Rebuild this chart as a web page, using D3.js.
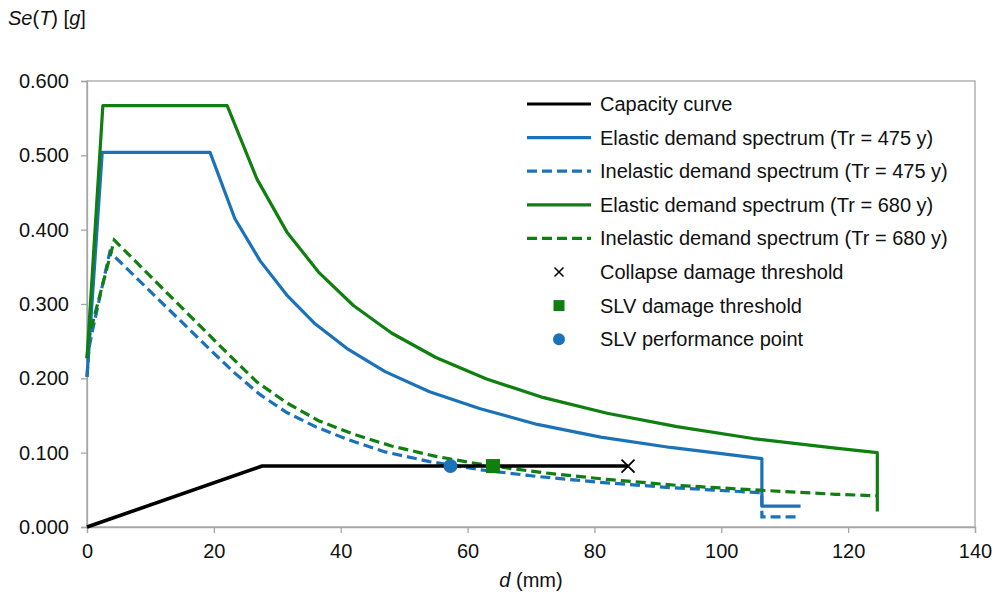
<!DOCTYPE html>
<html>
<head>
<meta charset="utf-8">
<script src="https://cdn.jsdelivr.net/npm/d3@7"></script>
<style>
  html, body { margin: 0; padding: 0; background: #fff; }
  svg { display: block; font-family: "Liberation Sans", Arial, sans-serif; }
</style>
</head>
<body>
<svg id="chart" width="997" height="596"></svg>
<script>
// ---------- DATA ----------
const xTicks = [0, 20, 40, 60, 80, 100, 120, 140];
const yTicks = [0, 0.1, 0.2, 0.3, 0.4, 0.5, 0.6];

const capacityD  = [0, 27.6, 85.3];
const capacitySa = [0, 0.082, 0.082];

const elastic475D  = [0, 2.4, 19.4, 23.3, 27.3, 31.5, 36, 41, 47, 54, 62, 71, 81, 92, 106.4, 106.4, 112.5];
const elastic475Sa = [0.202, 0.504, 0.504, 0.415, 0.358, 0.312, 0.273, 0.240, 0.209, 0.182, 0.159, 0.138, 0.121, 0.107, 0.092, 0.028, 0.028];

const inelastic475D  = [0, 0.3, 0.8, 3.6, 19.6, 23.3, 27.3, 31.5, 36, 41, 47, 54, 62, 71, 81, 92, 106.4, 106.4, 112.5];
const inelastic475Sa = [0.202, 0.240, 0.262, 0.370, 0.237, 0.207, 0.178, 0.154, 0.135, 0.118, 0.101, 0.088, 0.077, 0.068, 0.060, 0.053, 0.046, 0.0135, 0.0135];

const elastic680D  = [0, 2.5, 22.1, 26.8, 31.5, 36.5, 42, 48, 55, 63, 72, 82, 93, 105, 118, 124.6, 124.6];
const elastic680Sa = [0.227, 0.567, 0.567, 0.468, 0.397, 0.343, 0.298, 0.261, 0.228, 0.199, 0.174, 0.153, 0.135, 0.119, 0.106, 0.100, 0.021];

const inelastic680D  = [0, 0.3, 0.9, 4.3, 22.1, 26.8, 31.5, 36.5, 42, 48, 55, 63, 72, 82, 93, 105, 118, 124.6];
const inelastic680Sa = [0.227, 0.255, 0.275, 0.386, 0.234, 0.195, 0.167, 0.143, 0.125, 0.109, 0.095, 0.083, 0.073, 0.064, 0.056, 0.050, 0.044, 0.042];

const collapseD = [85.3],  collapseSa = [0.082];
const slvDamageD = [64.0], slvDamageSa = [0.082];
const slvPerfD = [57.3],   slvPerfSa = [0.082];

const legendLabels = [
  "Capacity curve",
  "Elastic demand spectrum (Tr = 475 y)",
  "Inelastic demand spectrum (Tr = 475 y)",
  "Elastic demand spectrum (Tr = 680 y)",
  "Inelastic demand spectrum (Tr = 680 y)",
  "Collapse damage threshold",
  "SLV damage threshold",
  "SLV performance point"
];

// ---------- STYLE ----------
const BLUE = "#1b72b8", GREEN = "#0f7f0f", BLACK = "#000", AXIS = "#a6a6a6";
const FS = 20;
const margin = { left: 87, top: 81, right: 22, bottom: 69 };
const W = 997, H = 596;
const svg = d3.select("#chart");

const x = d3.scaleLinear().domain([0, 140]).range([margin.left, W - margin.right]);
const y = d3.scaleLinear().domain([0, 0.6]).range([H - margin.bottom, margin.top]);

const zip = (a, b) => a.map((v, i) => [v, b[i]]);
const line = d3.line().x(d => x(d[0])).y(d => y(d[1]));

// frame
svg.append("rect")
  .attr("x", x(0)).attr("y", y(0.6))
  .attr("width", x(140) - x(0)).attr("height", y(0) - y(0.6))
  .attr("fill", "none").attr("stroke", AXIS).attr("stroke-width", 1.3);

// axes
const xAxis = d3.axisBottom(x).tickValues(xTicks).tickSize(6).tickPadding(11).tickFormat(d3.format("d"));
const gx = svg.append("g").attr("transform", `translate(0,${y(0)})`).call(xAxis);
const yAxis = d3.axisLeft(y).tickValues(yTicks).tickSize(6).tickPadding(12).tickFormat(d3.format(".3f"));
const gy = svg.append("g").attr("transform", `translate(${x(0)},0)`).call(yAxis);
[gx, gy].forEach(g => {
  g.select(".domain").attr("stroke", AXIS).attr("stroke-width", 1.3);
  g.selectAll(".tick line").attr("stroke", AXIS).attr("stroke-width", 1.3);
  g.selectAll(".tick text").attr("fill", "#111").attr("font-size", FS)
    .attr("font-family", "Liberation Sans, Arial, sans-serif");
});

// series
const plot = svg.append("g");
plot.append("path").datum(zip(elastic475D, elastic475Sa)).attr("d", line)
  .attr("fill", "none").attr("stroke", BLUE).attr("stroke-width", 3.2).attr("stroke-linejoin", "round");
plot.append("path").datum(zip(inelastic475D, inelastic475Sa)).attr("d", line)
  .attr("fill", "none").attr("stroke", BLUE).attr("stroke-width", 3.2).attr("stroke-dasharray", "10,5");
plot.append("path").datum(zip(elastic680D, elastic680Sa)).attr("d", line)
  .attr("fill", "none").attr("stroke", GREEN).attr("stroke-width", 3.2).attr("stroke-linejoin", "round");
plot.append("path").datum(zip(inelastic680D, inelastic680Sa)).attr("d", line)
  .attr("fill", "none").attr("stroke", GREEN).attr("stroke-width", 3.2).attr("stroke-dasharray", "10,5");
plot.append("path").datum(zip(capacityD, capacitySa)).attr("d", line)
  .attr("fill", "none").attr("stroke", BLACK).attr("stroke-width", 3.6).attr("stroke-linejoin", "round");

// markers
function drawX(g, cx, cy, s, w) {
  g.append("path").attr("d", `M${cx - s},${cy - s}L${cx + s},${cy + s}M${cx - s},${cy + s}L${cx + s},${cy - s}`)
    .attr("stroke", BLACK).attr("stroke-width", w).attr("fill", "none");
}
zip(collapseD, collapseSa).forEach(p => drawX(plot, x(p[0]), y(p[1]), 6.5, 1.8));
zip(slvDamageD, slvDamageSa).forEach(p => plot.append("rect")
  .attr("x", x(p[0]) - 7).attr("y", y(p[1]) - 7).attr("width", 14).attr("height", 14).attr("fill", GREEN));
zip(slvPerfD, slvPerfSa).forEach(p => plot.append("circle")
  .attr("cx", x(p[0])).attr("cy", y(p[1])).attr("r", 7).attr("fill", BLUE));

// legend
const lg = svg.append("g");
const lx0 = 527, lx1 = 591, tx = 600, ly0 = 104, dy = 33.6;
const styles = [
  { type: "line", color: BLACK, dash: null },
  { type: "line", color: BLUE, dash: null },
  { type: "line", color: BLUE, dash: "10,5" },
  { type: "line", color: GREEN, dash: null },
  { type: "line", color: GREEN, dash: "10,5" },
  { type: "x" }, { type: "square" }, { type: "circle" }
];
legendLabels.forEach((lab, i) => {
  const yy = ly0 + i * dy, st = styles[i], cx = (lx0 + lx1) / 2;
  if (st.type === "line") {
    lg.append("line").attr("x1", lx0).attr("x2", lx1).attr("y1", yy).attr("y2", yy)
      .attr("stroke", st.color).attr("stroke-width", 3.2)
      .attr("stroke-dasharray", st.dash);
  } else if (st.type === "x") {
    drawX(lg, cx, yy, 4.5, 1.5);
  } else if (st.type === "square") {
    lg.append("rect").attr("x", cx - 5.5).attr("y", yy - 5.5).attr("width", 11).attr("height", 11).attr("fill", GREEN);
  } else {
    lg.append("circle").attr("cx", cx).attr("cy", yy).attr("r", 6).attr("fill", BLUE);
  }
  lg.append("text").attr("x", tx).attr("y", yy).attr("dy", "0.35em")
    .attr("font-size", FS).attr("fill", "#111").text(lab);
});

// axis titles
const yt = svg.append("text").attr("x", 8).attr("y", 25).attr("font-size", FS).attr("fill", "#111");
yt.append("tspan").attr("font-style", "italic").text("Se");
yt.append("tspan").text("(");
yt.append("tspan").attr("font-style", "italic").text("T");
yt.append("tspan").text(") [");
yt.append("tspan").attr("font-style", "italic").text("g");
yt.append("tspan").text("]");

const xt = svg.append("text").attr("x", x(70)).attr("y", 587).attr("text-anchor", "middle")
  .attr("font-size", FS).attr("fill", "#111");
xt.append("tspan").attr("font-style", "italic").text("d");
xt.append("tspan").text(" (mm)");
</script>
</body>
</html>
